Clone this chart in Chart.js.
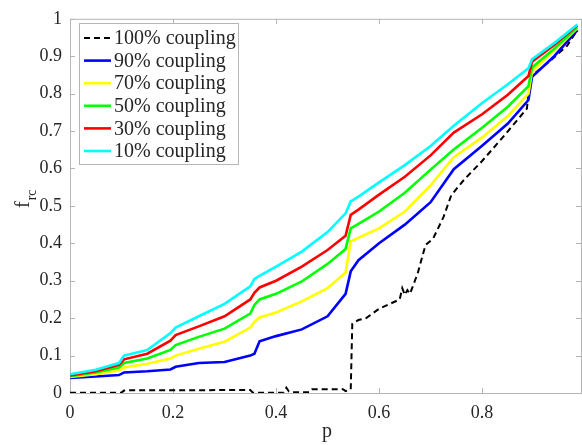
<!DOCTYPE html>
<html>
<head>
<meta charset="utf-8">
<title>f_rc vs p</title>
<script src="https://cdn.jsdelivr.net/npm/chart.js@4/dist/chart.umd.min.js"></script>
<style>
html, body { margin: 0; padding: 0; background: #fff; overflow: hidden; }
#wrap { width: 582px; height: 445px; }
</style>
</head>
<body>
<div id="wrap"><canvas id="frcChart" width="582" height="445"></canvas></div>
<script>

// ---------- DATA ----------

// shared p values for the partial-coupling runs
const pGrid = [0, 0.05, 0.095, 0.105, 0.15, 0.195, 0.205, 0.25, 0.3, 0.35, 0.358, 0.368, 0.4, 0.45,
  0.5, 0.535, 0.545, 0.56, 0.6, 0.65, 0.7, 0.745, 0.8, 0.85, 0.89, 0.897, 0.94, 0.985];

const coupling10 = [0.050, 0.062, 0.080, 0.100, 0.115, 0.160, 0.175, 0.205, 0.238, 0.285, 0.305, 0.313, 0.338, 0.378,
  0.430, 0.480, 0.512, 0.525, 0.563, 0.609, 0.660, 0.714, 0.775, 0.825, 0.868, 0.892, 0.935, 0.985];
const coupling30 = [0.047, 0.058, 0.075, 0.090, 0.105, 0.140, 0.155, 0.178, 0.205, 0.250, 0.268, 0.282, 0.300, 0.338,
  0.382, 0.420, 0.476, 0.490, 0.530, 0.578, 0.635, 0.696, 0.745, 0.797, 0.847, 0.885, 0.930, 0.983];
const coupling50 = [0.045, 0.055, 0.068, 0.080, 0.092, 0.115, 0.128, 0.150, 0.172, 0.212, 0.235, 0.250, 0.265, 0.298,
  0.345, 0.385, 0.440, 0.452, 0.485, 0.535, 0.597, 0.651, 0.709, 0.765, 0.820, 0.870, 0.920, 0.978];
const coupling70 = [0.043, 0.050, 0.060, 0.068, 0.078, 0.092, 0.100, 0.118, 0.137, 0.175, 0.190, 0.202, 0.215, 0.245,
  0.280, 0.322, 0.405, 0.415, 0.440, 0.485, 0.555, 0.630, 0.683, 0.740, 0.800, 0.860, 0.915, 0.975];
const coupling90 = [0.040, 0.044, 0.048, 0.055, 0.058, 0.063, 0.070, 0.080, 0.083, 0.100, 0.105, 0.138, 0.152, 0.170,
  0.205, 0.265, 0.325, 0.355, 0.400, 0.450, 0.510, 0.598, 0.661, 0.720, 0.783, 0.845, 0.900, 0.970];

// full coupling has its own p samples (sharp jump near 0.55)
const pFull = [0, 0.1, 0.105, 0.35, 0.355, 0.415, 0.42, 0.425, 0.43, 0.465, 0.47, 0.53, 0.535, 0.545, 0.548,
  0.56, 0.575, 0.6, 0.64, 0.645, 0.65, 0.655, 0.66, 0.675, 0.69, 0.705, 0.725, 0.74, 0.765, 0.8, 0.84,
  0.887, 0.89, 0.894, 0.93, 0.965, 0.985];
const coupling100 = [0.001, 0.001, 0.007, 0.008, 0.001, 0.001, 0.014, 0.004, 0.002, 0.002, 0.010, 0.010, 0.005, 0.010, 0.185,
  0.195, 0.200, 0.225, 0.250, 0.280, 0.262, 0.275, 0.265, 0.320, 0.395, 0.413, 0.470, 0.528, 0.570, 0.620, 0.683,
  0.760, 0.800, 0.845, 0.885, 0.928, 0.970];

const seriesLabels = ["100% coupling", "90% coupling", "70% coupling", "50% coupling", "30% coupling", "10% coupling"];

const xTicks = [0, 0.2, 0.4, 0.6, 0.8];
const yTicks = [0, 0.1, 0.2, 0.3, 0.4, 0.5, 0.6, 0.7, 0.8, 0.9, 1];


// ---------- HELPERS ----------

const serif = "'Liberation Serif', 'Times New Roman', serif";
const axisGray = "#b5b5b5";
const textGray = "#262626";

function toPoints(xs, ys){
  return xs.map((x, i) => ({ x: x, y: ys[i] }));
}

function makeSeries(label, xs, ys, color, idx, dashed){
  return {
    label: label,
    data: toPoints(xs, ys),
    borderColor: color,
    backgroundColor: color,
    borderWidth: dashed ? 2 : 2.6,
    borderDash: dashed ? [6, 4] : [],
    pointRadius: 0,
    fill: false,
    tension: 0,
    order: 6 - idx   // later series drawn on top
  };
}

function tickLabel(v){
  return String(Math.round(v * 10) / 10);
}


// ---------- AXES BOX + INWARD TICKS ----------

const boxPlugin = {
  id: "boxPlugin",
  beforeDatasetsDraw(chart){
    const ctx = chart.ctx;
    const a = chart.chartArea;
    const xs = chart.scales.x, ys = chart.scales.y;
    const len = 5;
    ctx.save();
    ctx.strokeStyle = axisGray;
    ctx.lineWidth = 1;
    ctx.strokeRect(a.left + 0.5, a.top + 0.5, a.right - a.left, a.bottom - a.top);
    ctx.beginPath();
    xTicks.forEach(v => {
      const px = Math.round(xs.getPixelForValue(v)) + 0.5;
      ctx.moveTo(px, a.bottom); ctx.lineTo(px, a.bottom - len);
      ctx.moveTo(px, a.top); ctx.lineTo(px, a.top + len);
    });
    yTicks.forEach(v => {
      const py = Math.round(ys.getPixelForValue(v)) + 0.5;
      ctx.moveTo(a.left, py); ctx.lineTo(a.left + len, py);
      ctx.moveTo(a.right, py); ctx.lineTo(a.right - len, py);
    });
    ctx.stroke();
    ctx.restore();
  }
};


// ---------- AXIS TITLES + LEGEND ----------

const labelPlugin = {
  id: "labelPlugin",
  afterDraw(chart){
    const ctx = chart.ctx;
    ctx.save();
    ctx.fillStyle = textGray;

    // x title
    ctx.font = "20px " + serif;
    ctx.textAlign = "center";
    ctx.textBaseline = "alphabetic";
    ctx.fillText("p", 327, 437);

    // y title: f with subscript rc, rotated
    ctx.save();
    ctx.translate(29, 208);
    ctx.rotate(-Math.PI / 2);
    ctx.textAlign = "left";
    ctx.font = "20px " + serif;
    ctx.fillText("f", 0, 0);
    const fw = ctx.measureText("f").width;
    ctx.font = "14px " + serif;
    ctx.fillText("rc", fw + 1, 7);
    ctx.restore();

    // legend box
    const bx = 79, by = 23, bw = 159, bh = 141;
    ctx.fillStyle = "#fff";
    ctx.fillRect(bx, by, bw, bh);
    ctx.strokeStyle = axisGray;
    ctx.lineWidth = 1;
    ctx.strokeRect(bx + 0.5, by + 0.5, bw, bh);

    ctx.font = "20px " + serif;
    ctx.textAlign = "left";
    ctx.textBaseline = "middle";
    chart.data.datasets.forEach((ds, i) => {
      const y = 38 + i * 22.6;
      ctx.beginPath();
      ctx.strokeStyle = ds.borderColor;
      ctx.lineWidth = ds.borderWidth;
      ctx.setLineDash(ds.borderDash);
      ctx.moveTo(84, y);
      ctx.lineTo(111, y);
      ctx.stroke();
      ctx.setLineDash([]);
      ctx.fillStyle = textGray;
      ctx.fillText(ds.label, 114, y + 1);
    });
    ctx.restore();
  }
};


// ---------- CHART ----------

function createChart(){

const ctx = document.getElementById("frcChart");

new Chart(ctx, {
  type: "line",
  data: {
    datasets: [
      makeSeries(seriesLabels[0], pFull, coupling100, "#000000", 0, true),
      makeSeries(seriesLabels[1], pGrid, coupling90, "#0000ff", 1, false),
      makeSeries(seriesLabels[2], pGrid, coupling70, "#ffff00", 2, false),
      makeSeries(seriesLabels[3], pGrid, coupling50, "#00ff00", 3, false),
      makeSeries(seriesLabels[4], pGrid, coupling30, "#ff0000", 4, false),
      makeSeries(seriesLabels[5], pGrid, coupling10, "#00ffff", 5, false)
    ]
  },
  options: {
    responsive: false,
    animation: false,
    events: [],
    layout: { padding: { top: 15, right: 1, left: 0, bottom: 0 } },
    plugins: {
      legend: { display: false },
      tooltip: { enabled: false }
    },
    scales: {
      x: {
        type: "linear",
        min: 0,
        max: 0.992,
        grid: { display: false, drawTicks: false },
        border: { display: false },
        afterBuildTicks: s => { s.ticks = xTicks.map(v => ({ value: v })); },
        afterFit: s => { s.height = 52; },
        ticks: {
          maxRotation: 0,
          padding: 9,
          color: textGray,
          font: { family: serif, size: 18 },
          callback: v => tickLabel(v)
        }
      },
      y: {
        type: "linear",
        min: 0,
        max: 1,
        grid: { display: false, drawTicks: false },
        border: { display: false },
        afterBuildTicks: s => { s.ticks = yTicks.map(v => ({ value: v })); },
        afterFit: s => { s.width = 70; },
        ticks: {
          padding: 8,
          color: textGray,
          font: { family: serif, size: 18 },
          callback: v => tickLabel(v)
        }
      }
    }
  },
  plugins: [boxPlugin, labelPlugin]
});

}

document.addEventListener("DOMContentLoaded", createChart);

</script>
</body>
</html>
